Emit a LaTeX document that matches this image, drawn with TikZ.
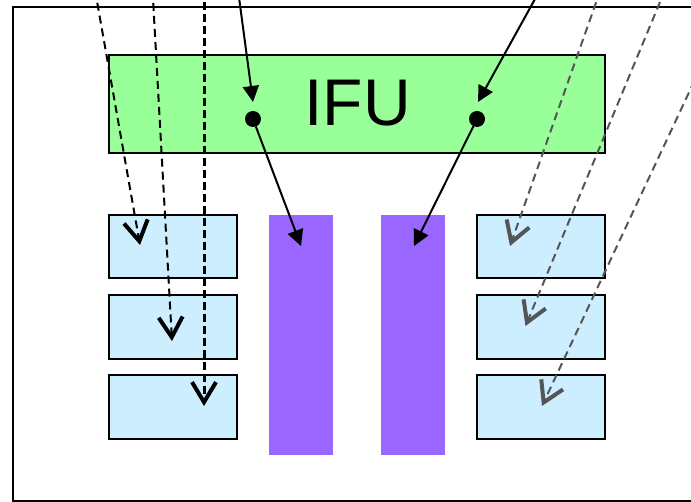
\documentclass[tikz,border=0pt]{standalone}
\usepackage{fontspec}
\setmainfont{Liberation Sans}
\usetikzlibrary{arrows.meta}
\definecolor{ifugreen}{HTML}{99FF99}
\definecolor{slotblue}{HTML}{CCEEFF}
\definecolor{barpurple}{HTML}{9966FF}
\definecolor{raygray}{HTML}{555555}
\begin{document}
\begin{tikzpicture}[x=1pt,y=-1pt,
  every node/.style={outer sep=0pt},
  box/.style={draw=black,line width=2pt,fill=slotblue},
  bar/.style={fill=barpurple},
  beam/.style={line width=2pt,-{Triangle[length=16pt,width=16pt]}},
  rayblack/.style={black,line width=2pt,dash pattern=on 8pt off 5pt,
    -{Straight Barb[length=20pt,width=24pt,line width=4pt]}},
  raythick/.style={rayblack,line width=3pt,dash pattern=on 8pt off 4pt},
  raygrey/.style={raygray,line width=2pt,dash pattern=on 8pt off 5pt,
    -{Straight Barb[length=20pt,width=24pt,line width=4pt]}},
  spot/.style={circle,fill=black,inner sep=0pt,minimum size=16pt}]
\useasboundingbox (0,0) rectangle (691,502);
\clip (0,0) rectangle (691,502);

% outer frame (open to the right)
\draw[line width=2pt] (720,7) -- (13,7) -- (13,501) -- (720,501);

% IFU block
\node[draw=black,line width=2pt,fill=ifugreen,minimum width=496pt,minimum height=98pt,
  inner sep=0pt,anchor=north west] (ifu) at (109,55) {};
\node[font=\fontsize{66pt}{70pt}\selectfont,inner sep=0pt] (ifulabel) at (357.5,103) {IFU};

% slot boxes, left and right columns
\foreach \n/\x in {L/109,R/477}{
  \node[box,minimum width=128pt,minimum height=63pt,inner sep=0pt,anchor=north west] (s\n1) at (\x,215) {};
  \node[box,minimum width=128pt,minimum height=64pt,inner sep=0pt,anchor=north west] (s\n2) at (\x,295) {};
  \node[box,minimum width=128pt,minimum height=64pt,inner sep=0pt,anchor=north west] (s\n3) at (\x,375) {};
}

% purple bars
\node[bar,minimum width=64pt,minimum height=240pt,inner sep=0pt,anchor=north west] (barL) at (269,215) {};
\node[bar,minimum width=64pt,minimum height=240pt,inner sep=0pt,anchor=north west] (barR) at (381,215) {};

% pick-off spots on the IFU
\node[spot] (dotL) at (253,119) {};
\node[spot] (dotR) at (477,119) {};

% free ends of the rays
\coordinate (inL) at (238,-10);
\coordinate (inR) at (540,-10);
\coordinate (tipInL) at (253,102);
\coordinate (tipInR) at (478,102);
\coordinate (tipBarL) at (301,246);
\coordinate (tipBarR) at (414,246);

\coordinate (srcA) at (95,-10);
\coordinate (srcB) at (152.5,-10);
\coordinate (srcC) at (204,-10);
\coordinate (tipA) at (140,245);
\coordinate (tipB) at (172,341);
\coordinate (tipC) at (204,406);

\coordinate (srcD) at (600.5,-10);
\coordinate (srcE) at (665,-10);
\coordinate (srcF) at (700,69);
\coordinate (tipD) at (510,246);
\coordinate (tipE) at (525.5,326);
\coordinate (tipF) at (542,406);

% solid beams through the IFU
\draw[beam] (inL) -- (tipInL);
\draw[beam] (inR) -- (tipInR);
\draw[beam] (dotL) -- (tipBarL);
\draw[beam] (dotR) -- (tipBarR);

% dashed rays to the slots
\draw[rayblack] (srcA) -- (tipA);
\draw[rayblack] (srcB) -- (tipB);
\draw[raythick] (srcC) -- (tipC);
\draw[raygrey] (srcD) -- (tipD);
\draw[raygrey] (srcE) -- (tipE);
\draw[raygrey] (srcF) -- (tipF);
\end{tikzpicture}
\end{document}
